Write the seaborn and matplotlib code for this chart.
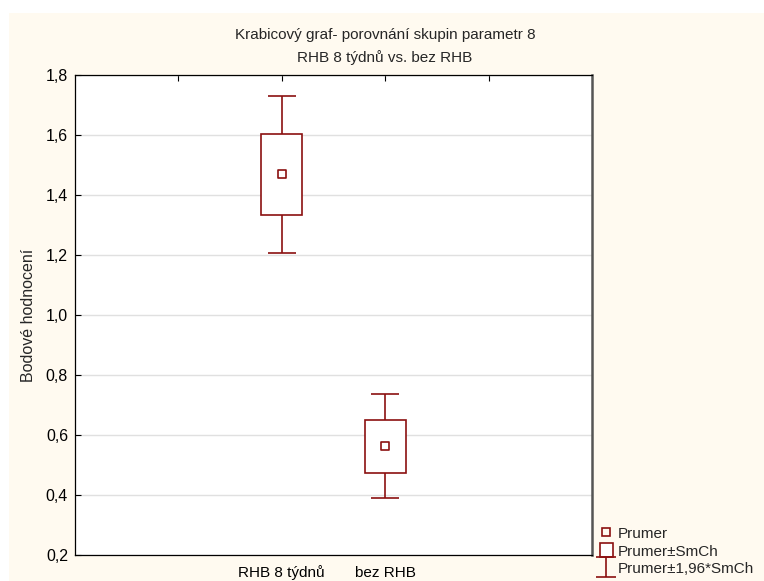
import numpy as np
import pandas as pd
import matplotlib
matplotlib.use("Agg")
import matplotlib.pyplot as plt
import seaborn as sns
from matplotlib.patches import Rectangle, Patch
from matplotlib.lines import Line2D
from matplotlib.path import Path
from matplotlib.ticker import FuncFormatter

# ─── Data ─────────────────────────────────────────────────────────────────────
groups = ["RHB 8 týdnů", "bez RHB"]
means = [1.469, 0.563]
sem = [0.134, 0.088]
ci_factor = 1.96

title = "Krabicový graf- porovnání skupin parametr 8\nRHB 8 týdnů vs. bez RHB"
ylabel = "Bodové hodnocení"
legend_labels = ["Prumer", "Prumer±SmCh", "Prumer±1,96*SmCh"]

RED = "#8b1010"

sns.set_style("white")
plt.rcParams["font.family"] = ["Liberation Sans", "DejaVu Sans"]
plt.rcParams["font.size"] = 11

df = pd.DataFrame({"group": groups, "mean": means, "sem": sem})
df["pos"] = np.arange(len(groups)) + 2          # slots 2 and 3 on a 0..5 axis
df["lo"] = df["mean"] - df["sem"]
df["ci"] = ci_factor * df["sem"]

fig = plt.figure(figsize=(7.64, 5.81), dpi=100, facecolor="white")
fig.patches.append(Rectangle((9 / 764, 0), 1, 1 - 13 / 581, transform=fig.transFigure,
                             facecolor="#fffaf0", edgecolor="none", zorder=-10))
ax = fig.add_axes([75 / 764, 1 - 555 / 581, 517 / 764, 480 / 581])
ax.set_facecolor("white")

# whiskers (mean ± 1.96*SE)
ax.errorbar(df["pos"], df["mean"], yerr=df["ci"], fmt="none", ecolor=RED,
            elinewidth=1.2, capsize=10, capthick=1.2, zorder=2)
# boxes (mean ± SE)
ax.bar(df["pos"], 2 * df["sem"], bottom=df["lo"], width=0.4,
       facecolor="white", edgecolor=RED, linewidth=1.2, zorder=3)
# mean markers
sns.scatterplot(data=df, x="pos", y="mean", ax=ax, marker="s", s=30,
                facecolor="none", edgecolor=RED, linewidth=1.2, zorder=4)

ax.set_xlim(0, 5)
ax.set_ylim(0.2, 1.8)
ax.set_xticks([1, 2, 3, 4])
ax.set_xticklabels(["", groups[0], groups[1], ""])
for lbl in ax.get_xticklabels():
    lbl.set_verticalalignment("baseline")
ax.set_yticks(np.arange(0.2, 1.81, 0.2))
ax.yaxis.set_major_formatter(FuncFormatter(lambda v, _: f"{v:.1f}".replace(".", ",")))
ax.tick_params(axis="x", direction="in", top=True, length=4, width=0.8, pad=16,
               labelsize=11, colors="black")
ax.tick_params(axis="y", direction="in", left=True, length=4, width=0.8, pad=5,
               labelsize=11.5, colors="black")
ax.yaxis.grid(True, color="#e0e0e0", linewidth=1)
ax.xaxis.grid(False)
ax.set_axisbelow(True)
ax.set_xlabel("")
ax.set_ylabel(ylabel, fontsize=11.5, labelpad=7)
for side in ["top", "left", "bottom"]:
    ax.spines[side].set_color("black")
    ax.spines[side].set_linewidth(0.9)
ax.spines["right"].set_color("#555555")
ax.spines["right"].set_linewidth(1.8)

fig.text(385 / 764, 1 - 46.5 / 581, title, ha="center", va="center",
         fontsize=11, linespacing=1.7)

# legend
ibeam = Path([(-0.5, 0.5), (0.5, 0.5), (0, 0.5), (0, -0.5), (-0.5, -0.5), (0.5, -0.5)],
             [Path.MOVETO, Path.LINETO, Path.MOVETO, Path.LINETO, Path.MOVETO, Path.LINETO])
handles = [
    Line2D([], [], marker="s", markersize=6, markerfacecolor="none",
           markeredgecolor=RED, markeredgewidth=1.2, linestyle="none"),
    Patch(facecolor="white", edgecolor=RED, linewidth=1.2),
    Line2D([], [], marker=ibeam, markersize=14, markerfacecolor="none",
           markeredgecolor=RED, markeredgewidth=1.2, linestyle="none"),
]
fig.legend(handles, legend_labels, loc="lower left", bbox_to_anchor=(589 / 764, -0.010),
           frameon=False, fontsize=11, handlelength=0.85, handleheight=1.05,
           handletextpad=0.3, labelspacing=0.15, borderpad=0.2)

fig.savefig("out.png", dpi=100, facecolor=fig.get_facecolor())
